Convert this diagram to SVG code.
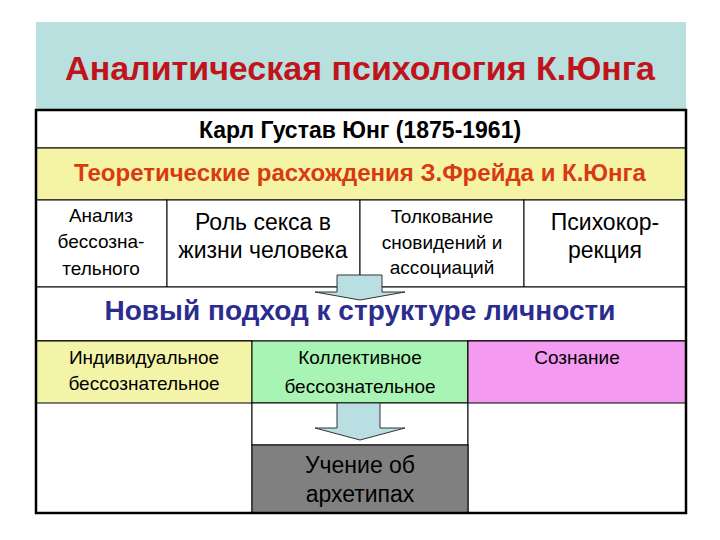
<svg xmlns="http://www.w3.org/2000/svg" width="720" height="540" viewBox="0 0 720 540">
<style>
text{font-family:"Liberation Sans",Arial,sans-serif;text-anchor:middle}
.c{stroke:#000;stroke-width:1}
.s{font-size:19px;fill:#000}
.b{font-size:23px;fill:#000}
.arr{fill:#b9dfe3;stroke:#333;stroke-width:1}
</style>
<rect width="720" height="540" fill="#fff"/>
<g id="title"><rect x="36" y="22" width="650" height="88" fill="#b8e0de"/>
<text x="360" y="80" font-size="34" font-weight="bold" fill="#c0141c">Аналитическая психология К.Юнга</text></g>
<g id="jung"><rect class="c" x="36" y="110" width="650" height="38" fill="#fff"/>
<text x="360" y="138" font-size="23" font-weight="bold">Карл Густав Юнг  (1875-1961)</text></g>
<g id="diff"><rect class="c" x="36" y="148" width="650" height="52" fill="#f4f4a4"/>
<text x="360" y="181" font-size="24" font-weight="bold" fill="#d83a14">Теоретические расхождения З.Фрейда и К.Юнга</text></g>
<g id="c1"><rect class="c" x="36" y="200" width="131" height="87" fill="#fff"/>
<text class="s" x="101" y="222">Анализ</text><text class="s" x="101" y="248">бессозна-</text><text class="s" x="101" y="275">тельного</text></g>
<g id="c2"><rect class="c" x="167" y="200" width="193" height="87" fill="#fff"/>
<text class="b" x="263" y="230">Роль секса в</text><text class="b" x="263" y="258">жизни человека</text></g>
<g id="c3"><rect class="c" x="360" y="200" width="164" height="87" fill="#fff"/>
<text class="s" x="442" y="223">Толкование</text><text class="s" x="442" y="249">сновидений и</text><text class="s" x="442" y="274">ассоциаций</text></g>
<g id="c4"><rect class="c" x="524" y="200" width="162" height="87" fill="#fff"/>
<text class="b" x="605" y="230">Психокор-</text><text class="b" x="605" y="258">рекция</text></g>
<g id="approach"><rect class="c" x="36" y="287" width="650" height="54" fill="#fff"/>
<text x="360" y="320" font-size="28" font-weight="bold" fill="#2c2c8e">Новый подход к структуре личности</text></g>
<g id="ind"><rect class="c" x="36" y="341" width="216" height="172" fill="#fff"/><rect class="c" x="36" y="341" width="216" height="62" fill="#f4f4a8"/>
<text class="s" x="144" y="364">Индивидуальное</text><text class="s" x="144" y="390">бессознательное</text></g>
<g id="col"><rect class="c" x="252" y="341" width="216" height="62" fill="#a8f4b4"/>
<rect class="c" x="252" y="403" width="216" height="42" fill="#fff"/>
<text class="s" x="360" y="364">Коллективное</text><text class="s" x="360" y="393">бессознательное</text></g>
<g id="cons"><rect class="c" x="468" y="341" width="218" height="172" fill="#fff"/><rect class="c" x="468" y="341" width="218" height="62" fill="#f49af0"/>
<text class="s" x="577" y="364">Сознание</text></g>
<g id="arch"><rect class="c" x="252" y="445" width="216" height="68" fill="#808080"/>
<text class="b" x="360" y="473">Учение об</text><text class="b" x="360" y="502">архетипах</text></g>
<rect x="36" y="110" width="650" height="403" fill="none" stroke="#000" stroke-width="2.5"/>
<g id="connectors">
<polygon class="arr" points="337,275 382,275 382,292 405,292 360,300 315,292 337,292"/>
<polygon class="arr" points="337,403 380,403 380,428 405,428 360,440 315,428 337,428"/>
</g>
</svg>
